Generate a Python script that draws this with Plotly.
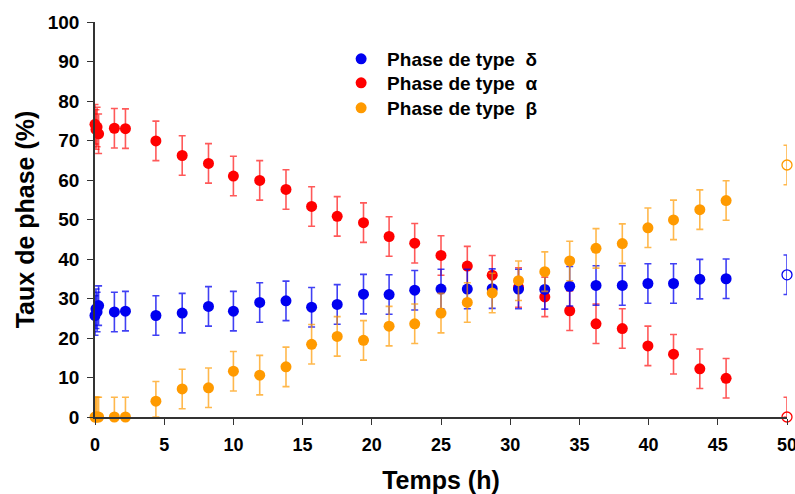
import plotly.graph_objects as go

# ---- data ----
times = [0.0, 0.07, 0.15, 0.26, 1.4, 2.2, 4.4, 6.3, 8.2, 10.0, 11.9, 13.8, 15.65, 17.5,
         19.4, 21.25, 23.1, 25.0, 26.9, 28.7, 30.6, 32.5, 34.3, 36.2, 38.1, 39.95, 41.8,
         43.7, 45.6]
alpha_vals = [74.1, 72.8, 73.4, 71.7, 73.1, 73.0, 69.9, 66.2, 64.2, 61.0, 59.9, 57.6, 53.3,
              50.8, 49.2, 45.7, 44.0, 40.9, 38.2, 35.9, 32.8, 30.4, 26.9, 23.6, 22.4, 18.0,
              15.9, 12.2, 9.8]
delta_vals = [25.7, 27.4, 26.6, 28.2, 26.6, 26.8, 25.7, 26.3, 28.0, 26.8, 29.0, 29.4, 27.8,
              28.5, 31.1, 31.0, 32.1, 32.4, 32.4, 32.5, 32.4, 32.3, 33.1, 33.3, 33.3, 33.8,
              33.8, 34.9, 35.0]
beta_vals = [0.0, 0.0, 0.0, 0.0, 0.0, 0.0, 4.0, 7.1, 7.4, 11.6, 10.6, 12.7, 18.4, 20.4,
             19.4, 23.0, 23.6, 26.3, 29.0, 31.4, 34.5, 36.8, 39.5, 42.7, 43.9, 47.9, 49.9,
             52.5, 54.8]
err = 5.0

final_time = [50.0]
final_alpha = [0.0]
final_delta = [36.0]
final_beta = [63.8]

names = {"delta": "Phase de type  δ", "alpha": "Phase de type  α", "beta": "Phase de type  β"}
colors = {"delta": "#0000F0", "alpha": "#FF0000", "beta": "#FF9A00"}
err_colors = {"delta": "rgba(0,0,240,0.75)", "alpha": "rgba(255,0,0,0.65)",
              "beta": "rgba(255,154,0,0.7)"}

x_ticks = [0, 5, 10, 15, 20, 25, 30, 35, 40, 45, 50]
y_ticks = [0, 10, 20, 30, 40, 50, 60, 70, 80, 90, 100]

series = {"alpha": alpha_vals, "delta": delta_vals, "beta": beta_vals}
finals = {"alpha": final_alpha, "delta": final_delta, "beta": final_beta}
legend_ref = {"delta": "legend", "alpha": "legend2", "beta": "legend3"}

fig = go.Figure()
for key in ["alpha", "delta", "beta"]:
    vals = series[key]
    minus = [min(err, v) for v in vals]
    fig.add_trace(go.Scatter(
        x=times, y=vals, mode="markers", name=names[key], legend=legend_ref[key],
        showlegend=True,
        marker=dict(symbol="circle", size=11, color=colors[key]),
        error_y=dict(type="data", symmetric=False, array=[err] * len(vals),
                     arrayminus=minus, color=err_colors[key], thickness=1.6, width=3.5),
        cliponaxis=False,
    ))
    fv = finals[key]
    fig.add_trace(go.Scatter(
        x=final_time, y=fv, mode="markers", showlegend=False,
        marker=dict(symbol="circle-open", size=10, color=colors[key], line=dict(width=1.3)),
        error_y=dict(type="data", symmetric=False, array=[err] * len(fv),
                     arrayminus=[min(err, v) for v in fv], color=err_colors[key],
                     thickness=1.6, width=3.5),
        cliponaxis=False,
    ))

FONT = "Liberation Sans, Arial, sans-serif"


def legend_at(py):
    return dict(x=0.347, y=1 - (py - 22) / 395, xanchor="left", yanchor="middle",
                font=dict(family=FONT, size=19, color="#000000", weight="bold"),
                bgcolor="rgba(0,0,0,0)", itemwidth=42)


fig.update_layout(
    width=795, height=494,
    margin=dict(l=95, r=8, t=22, b=77, autoexpand=False),
    paper_bgcolor="white", plot_bgcolor="white",
    font=dict(family=FONT, color="#000000"),
    legend=legend_at(59), legend2=legend_at(83), legend3=legend_at(108),
    xaxis=dict(range=[0, 50], tickvals=x_ticks, ticktext=[str(t) for t in x_ticks],
               showgrid=False, zeroline=False, showline=True, linecolor="#333333",
               linewidth=1.5, ticks="outside", ticklen=6, tickwidth=1.3, tickcolor="#333333",
               tickfont=dict(family=FONT, size=18, color="#000000", weight="bold"),
               automargin=False, ticklabeloverflow="allow", ticklabelstandoff=5,
               title=dict(text="<b>Temps (h)</b>", standoff=20,
                          font=dict(family=FONT, size=25))),
    yaxis=dict(range=[0, 100], tickvals=y_ticks, ticktext=[str(t) for t in y_ticks],
               showgrid=False, zeroline=False, showline=True, linecolor="#333333",
               linewidth=1.5, ticks="outside", ticklen=6, tickwidth=1.3, tickcolor="#333333",
               tickfont=dict(family=FONT, size=19, color="#000000", weight="bold"),
               automargin=False, ticklabelstandoff=4,
               title=dict(text="<b>Taux de phase (%)</b>", standoff=6,
                          font=dict(family=FONT, size=25))),
)

fig.write_html("out.html", config={"displayModeBar": False},
               post_script="document.body.style.margin='0';")
